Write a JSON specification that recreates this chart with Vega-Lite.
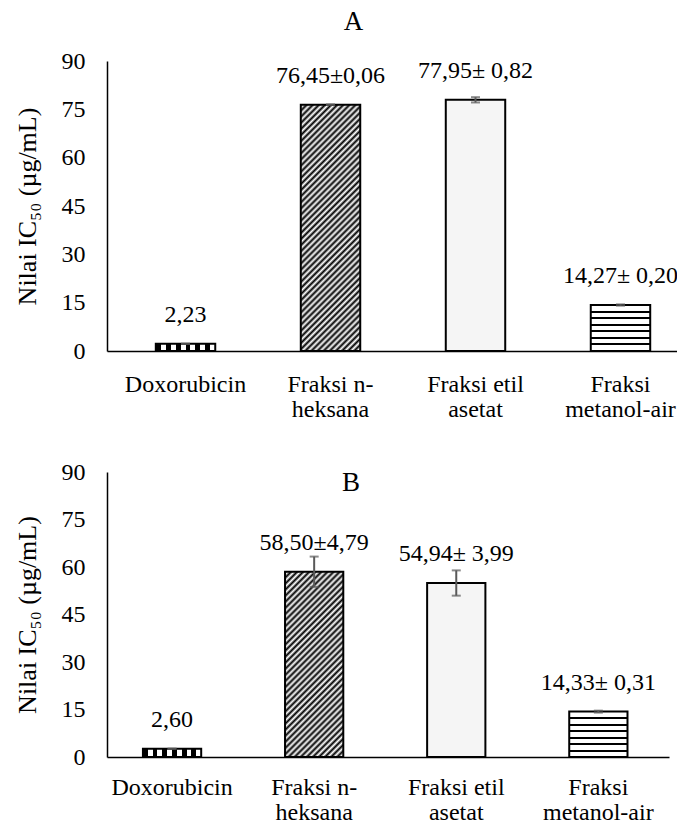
{
  "$schema": "https://vega.github.io/schema/vega-lite/v6.json",
  "padding": {"left": 14, "top": 8, "right": 0, "bottom": 0},
  "config": {
    "font": "Liberation Serif",
    "view": {"stroke": null},
    "axis": {"grid": false, "ticks": false, "tickSize": 0, "domainColor": "#000", "domainWidth": 1.5, "labelColor": "#000", "labelFont": "Liberation Serif", "labelFontSize": 24, "titleFont": "Liberation Serif", "titleFontSize": 26, "titleFontWeight": "normal", "titleColor": "#000"},
    "title": {"font": "Liberation Serif", "fontSize": 27, "fontWeight": "normal", "color": "#000"},
    "text": {"font": "Liberation Serif"}
  },
  "datasets": {
    "A": [
      {"sampel": "Doxorubicin", "nilai": 2.23, "sd": 0, "label": "2,23"},
      {"sampel": "Fraksi n-|heksana", "nilai": 76.45, "sd": 0.06, "label": "76,45±0,06"},
      {"sampel": "Fraksi etil|asetat", "nilai": 77.95, "sd": 0.82, "label": "77,95± 0,82"},
      {"sampel": "Fraksi|metanol-air", "nilai": 14.27, "sd": 0.20, "label": "14,27± 0,20"}
    ],
    "B": [
      {"sampel": "Doxorubicin", "nilai": 2.60, "sd": 0, "label": "2,60"},
      {"sampel": "Fraksi n-|heksana", "nilai": 58.50, "sd": 4.79, "label": "58,50±4,79"},
      {"sampel": "Fraksi etil|asetat", "nilai": 54.94, "sd": 3.99, "label": "54,94± 3,99"},
      {"sampel": "Fraksi|metanol-air", "nilai": 14.33, "sd": 0.31, "label": "14,33± 0,31"}
    ]
  },
  "concat": [
    {
      "data": {"name": "A"},
      "width": 573,
      "height": 290,
      "title": {"text": "A", "anchor": "middle", "frame": "group", "dx": -40, "baseline": "alphabetic", "offset": -8},
      "encoding": {
        "x": {"field": "sampel", "type": "nominal", "sort": null,
          "scale": {"paddingInner": 0.59, "paddingOuter": 0.271, "align": 0.621},
          "axis": {"title": null, "labelAngle": 0, "labelPadding": 21, "labelOverlap": false, "labelExpr": "split(datum.label, '|')", "labelLineHeight": 25}},
        "y": {"field": "nilai", "type": "quantitative",
          "scale": {"domain": [0, 90], "nice": false},
          "axis": {"values": [0, 15, 30, 45, 60, 75, 90], "labelPadding": 22, "title": "Nilai IC₅₀ (µg/mL)", "titlePadding": 21}}
      },
      "layer": [
        {
          "mark": {"type": "bar", "stroke": "#000", "strokeWidth": 2},
          "encoding": {
            "fill": {
              "condition": [
                {"test": "datum.sampel === 'Doxorubicin'", "value": {"gradient": "linear", "x1": 0, "y1": 0, "x2": 1, "y2": 0, "stops": [
                  {"offset": 0, "color": "#000"}, {"offset": 0.0833, "color": "#000"}, {"offset": 0.0833, "color": "#fff"}, {"offset": 0.1667, "color": "#fff"},
                  {"offset": 0.1667, "color": "#000"}, {"offset": 0.25, "color": "#000"}, {"offset": 0.25, "color": "#fff"}, {"offset": 0.3333, "color": "#fff"},
                  {"offset": 0.3333, "color": "#000"}, {"offset": 0.4167, "color": "#000"}, {"offset": 0.4167, "color": "#fff"}, {"offset": 0.5, "color": "#fff"},
                  {"offset": 0.5, "color": "#000"}, {"offset": 0.5833, "color": "#000"}, {"offset": 0.5833, "color": "#fff"}, {"offset": 0.6667, "color": "#fff"},
                  {"offset": 0.6667, "color": "#000"}, {"offset": 0.75, "color": "#000"}, {"offset": 0.75, "color": "#fff"}, {"offset": 0.8333, "color": "#fff"},
                  {"offset": 0.8333, "color": "#000"}, {"offset": 0.9167, "color": "#000"}, {"offset": 0.9167, "color": "#fff"}, {"offset": 1, "color": "#fff"}]}},
                {"test": "datum.sampel === 'Fraksi n-|heksana'", "value": {"gradient": "linear", "x1": 0, "y1": 0, "x2": 0.2832, "y2": 1.1731, "stops": [
                  {"offset": 0, "color": "#000"}, {"offset": 0.01, "color": "#fff"}, {"offset": 0.02, "color": "#000"}, {"offset": 0.03, "color": "#fff"}, {"offset": 0.04, "color": "#000"},
                  {"offset": 0.05, "color": "#fff"}, {"offset": 0.06, "color": "#000"}, {"offset": 0.07, "color": "#fff"}, {"offset": 0.08, "color": "#000"}, {"offset": 0.09, "color": "#fff"},
                  {"offset": 0.10, "color": "#000"}, {"offset": 0.11, "color": "#fff"}, {"offset": 0.12, "color": "#000"}, {"offset": 0.13, "color": "#fff"}, {"offset": 0.14, "color": "#000"},
                  {"offset": 0.15, "color": "#fff"}, {"offset": 0.16, "color": "#000"}, {"offset": 0.17, "color": "#fff"}, {"offset": 0.18, "color": "#000"}, {"offset": 0.19, "color": "#fff"},
                  {"offset": 0.20, "color": "#000"}, {"offset": 0.21, "color": "#fff"}, {"offset": 0.22, "color": "#000"}, {"offset": 0.23, "color": "#fff"}, {"offset": 0.24, "color": "#000"},
                  {"offset": 0.25, "color": "#fff"}, {"offset": 0.26, "color": "#000"}, {"offset": 0.27, "color": "#fff"}, {"offset": 0.28, "color": "#000"}, {"offset": 0.29, "color": "#fff"},
                  {"offset": 0.30, "color": "#000"}, {"offset": 0.31, "color": "#fff"}, {"offset": 0.32, "color": "#000"}, {"offset": 0.33, "color": "#fff"}, {"offset": 0.34, "color": "#000"},
                  {"offset": 0.35, "color": "#fff"}, {"offset": 0.36, "color": "#000"}, {"offset": 0.37, "color": "#fff"}, {"offset": 0.38, "color": "#000"}, {"offset": 0.39, "color": "#fff"},
                  {"offset": 0.40, "color": "#000"}, {"offset": 0.41, "color": "#fff"}, {"offset": 0.42, "color": "#000"}, {"offset": 0.43, "color": "#fff"}, {"offset": 0.44, "color": "#000"},
                  {"offset": 0.45, "color": "#fff"}, {"offset": 0.46, "color": "#000"}, {"offset": 0.47, "color": "#fff"}, {"offset": 0.48, "color": "#000"}, {"offset": 0.49, "color": "#fff"},
                  {"offset": 0.50, "color": "#000"}, {"offset": 0.51, "color": "#fff"}, {"offset": 0.52, "color": "#000"}, {"offset": 0.53, "color": "#fff"}, {"offset": 0.54, "color": "#000"},
                  {"offset": 0.55, "color": "#fff"}, {"offset": 0.56, "color": "#000"}, {"offset": 0.57, "color": "#fff"}, {"offset": 0.58, "color": "#000"}, {"offset": 0.59, "color": "#fff"},
                  {"offset": 0.60, "color": "#000"}, {"offset": 0.61, "color": "#fff"}, {"offset": 0.62, "color": "#000"}, {"offset": 0.63, "color": "#fff"}, {"offset": 0.64, "color": "#000"},
                  {"offset": 0.65, "color": "#fff"}, {"offset": 0.66, "color": "#000"}, {"offset": 0.67, "color": "#fff"}, {"offset": 0.68, "color": "#000"}, {"offset": 0.69, "color": "#fff"},
                  {"offset": 0.70, "color": "#000"}, {"offset": 0.71, "color": "#fff"}, {"offset": 0.72, "color": "#000"}, {"offset": 0.73, "color": "#fff"}, {"offset": 0.74, "color": "#000"},
                  {"offset": 0.75, "color": "#fff"}, {"offset": 0.76, "color": "#000"}, {"offset": 0.77, "color": "#fff"}, {"offset": 0.78, "color": "#000"}, {"offset": 0.79, "color": "#fff"},
                  {"offset": 0.80, "color": "#000"}, {"offset": 0.81, "color": "#fff"}, {"offset": 0.82, "color": "#000"}, {"offset": 0.83, "color": "#fff"}, {"offset": 0.84, "color": "#000"},
                  {"offset": 0.85, "color": "#fff"}, {"offset": 0.86, "color": "#000"}, {"offset": 0.87, "color": "#fff"}, {"offset": 0.88, "color": "#000"}, {"offset": 0.89, "color": "#fff"},
                  {"offset": 0.90, "color": "#000"}, {"offset": 0.91, "color": "#fff"}, {"offset": 0.92, "color": "#000"}, {"offset": 0.93, "color": "#fff"}, {"offset": 0.94, "color": "#000"},
                  {"offset": 0.95, "color": "#fff"}, {"offset": 0.96, "color": "#000"}, {"offset": 0.97, "color": "#fff"}, {"offset": 0.98, "color": "#000"}, {"offset": 0.99, "color": "#fff"},
                  {"offset": 1, "color": "#000"}]}},
                {"test": "datum.sampel === 'Fraksi|metanol-air'", "value": {"gradient": "linear", "x1": 0, "y1": 0, "x2": 0, "y2": 1, "stops": [
                  {"offset": 0, "color": "#fff"},
                  {"offset": 0.1209, "color": "#fff"}, {"offset": 0.1209, "color": "#000"}, {"offset": 0.1649, "color": "#000"}, {"offset": 0.1649, "color": "#fff"},
                  {"offset": 0.2637, "color": "#fff"}, {"offset": 0.2637, "color": "#000"}, {"offset": 0.3077, "color": "#000"}, {"offset": 0.3077, "color": "#fff"},
                  {"offset": 0.4066, "color": "#fff"}, {"offset": 0.4066, "color": "#000"}, {"offset": 0.4506, "color": "#000"}, {"offset": 0.4506, "color": "#fff"},
                  {"offset": 0.5494, "color": "#fff"}, {"offset": 0.5494, "color": "#000"}, {"offset": 0.5934, "color": "#000"}, {"offset": 0.5934, "color": "#fff"},
                  {"offset": 0.6923, "color": "#fff"}, {"offset": 0.6923, "color": "#000"}, {"offset": 0.7363, "color": "#000"}, {"offset": 0.7363, "color": "#fff"},
                  {"offset": 0.8351, "color": "#fff"}, {"offset": 0.8351, "color": "#000"}, {"offset": 0.8791, "color": "#000"}, {"offset": 0.8791, "color": "#fff"},
                  {"offset": 1, "color": "#fff"}]}}
              ],
              "value": "#f5f5f5"
            }
          }
        },
        {
          "mark": {"type": "errorbar", "ticks": true, "size": 9, "thickness": 2, "color": "#595959"},
          "encoding": {"yError": {"field": "sd"}}
        },
        {
          "mark": {"type": "text", "dy": -22, "baseline": "alphabetic", "font": "Liberation Serif", "fontSize": 24, "color": "#000"},
          "encoding": {"text": {"field": "label"}}
        }
      ]
    },
    {
      "data": {"name": "B"},
      "width": 562,
      "height": 285,
      "title": {"text": "B", "anchor": "middle", "frame": "group", "dx": -37, "baseline": "alphabetic", "offset": -58},
      "encoding": {
        "x": {"field": "sampel", "type": "nominal", "sort": null,
          "scale": {"paddingInner": 0.59, "paddingOuter": 0.2725, "align": 0.464},
          "axis": {"title": null, "labelAngle": 0, "labelPadding": 18, "labelOverlap": false, "labelExpr": "split(datum.label, '|')", "labelLineHeight": 25}},
        "y": {"field": "nilai", "type": "quantitative",
          "scale": {"domain": [0, 90], "nice": false},
          "axis": {"values": [0, 15, 30, 45, 60, 75, 90], "labelPadding": 22, "title": "Nilai IC₅₀ (µg/mL)", "titlePadding": 21}}
      },
      "layer": [
        {
          "mark": {"type": "bar", "stroke": "#000", "strokeWidth": 2},
          "encoding": {
            "fill": {
              "condition": [
                {"test": "datum.sampel === 'Doxorubicin'", "value": {"gradient": "linear", "x1": 0, "y1": 0, "x2": 1, "y2": 0, "stops": [
                  {"offset": 0, "color": "#000"}, {"offset": 0.0833, "color": "#000"}, {"offset": 0.0833, "color": "#fff"}, {"offset": 0.1667, "color": "#fff"},
                  {"offset": 0.1667, "color": "#000"}, {"offset": 0.25, "color": "#000"}, {"offset": 0.25, "color": "#fff"}, {"offset": 0.3333, "color": "#fff"},
                  {"offset": 0.3333, "color": "#000"}, {"offset": 0.4167, "color": "#000"}, {"offset": 0.4167, "color": "#fff"}, {"offset": 0.5, "color": "#fff"},
                  {"offset": 0.5, "color": "#000"}, {"offset": 0.5833, "color": "#000"}, {"offset": 0.5833, "color": "#fff"}, {"offset": 0.6667, "color": "#fff"},
                  {"offset": 0.6667, "color": "#000"}, {"offset": 0.75, "color": "#000"}, {"offset": 0.75, "color": "#fff"}, {"offset": 0.8333, "color": "#fff"},
                  {"offset": 0.8333, "color": "#000"}, {"offset": 0.9167, "color": "#000"}, {"offset": 0.9167, "color": "#fff"}, {"offset": 1, "color": "#fff"}]}},
                {"test": "datum.sampel === 'Fraksi n-|heksana'", "value": {"gradient": "linear", "x1": 0, "y1": 0, "x2": 0.3765, "y2": 1.1962, "stops": [
                  {"offset": 0, "color": "#000"}, {"offset": 0.0125, "color": "#fff"}, {"offset": 0.025, "color": "#000"}, {"offset": 0.0375, "color": "#fff"},
                  {"offset": 0.05, "color": "#000"}, {"offset": 0.0625, "color": "#fff"}, {"offset": 0.075, "color": "#000"}, {"offset": 0.0875, "color": "#fff"},
                  {"offset": 0.1, "color": "#000"}, {"offset": 0.1125, "color": "#fff"}, {"offset": 0.125, "color": "#000"}, {"offset": 0.1375, "color": "#fff"},
                  {"offset": 0.15, "color": "#000"}, {"offset": 0.1625, "color": "#fff"}, {"offset": 0.175, "color": "#000"}, {"offset": 0.1875, "color": "#fff"},
                  {"offset": 0.2, "color": "#000"}, {"offset": 0.2125, "color": "#fff"}, {"offset": 0.225, "color": "#000"}, {"offset": 0.2375, "color": "#fff"},
                  {"offset": 0.25, "color": "#000"}, {"offset": 0.2625, "color": "#fff"}, {"offset": 0.275, "color": "#000"}, {"offset": 0.2875, "color": "#fff"},
                  {"offset": 0.3, "color": "#000"}, {"offset": 0.3125, "color": "#fff"}, {"offset": 0.325, "color": "#000"}, {"offset": 0.3375, "color": "#fff"},
                  {"offset": 0.35, "color": "#000"}, {"offset": 0.3625, "color": "#fff"}, {"offset": 0.375, "color": "#000"}, {"offset": 0.3875, "color": "#fff"},
                  {"offset": 0.4, "color": "#000"}, {"offset": 0.4125, "color": "#fff"}, {"offset": 0.425, "color": "#000"}, {"offset": 0.4375, "color": "#fff"},
                  {"offset": 0.45, "color": "#000"}, {"offset": 0.4625, "color": "#fff"}, {"offset": 0.475, "color": "#000"}, {"offset": 0.4875, "color": "#fff"},
                  {"offset": 0.5, "color": "#000"}, {"offset": 0.5125, "color": "#fff"}, {"offset": 0.525, "color": "#000"}, {"offset": 0.5375, "color": "#fff"},
                  {"offset": 0.55, "color": "#000"}, {"offset": 0.5625, "color": "#fff"}, {"offset": 0.575, "color": "#000"}, {"offset": 0.5875, "color": "#fff"},
                  {"offset": 0.6, "color": "#000"}, {"offset": 0.6125, "color": "#fff"}, {"offset": 0.625, "color": "#000"}, {"offset": 0.6375, "color": "#fff"},
                  {"offset": 0.65, "color": "#000"}, {"offset": 0.6625, "color": "#fff"}, {"offset": 0.675, "color": "#000"}, {"offset": 0.6875, "color": "#fff"},
                  {"offset": 0.7, "color": "#000"}, {"offset": 0.7125, "color": "#fff"}, {"offset": 0.725, "color": "#000"}, {"offset": 0.7375, "color": "#fff"},
                  {"offset": 0.75, "color": "#000"}, {"offset": 0.7625, "color": "#fff"}, {"offset": 0.775, "color": "#000"}, {"offset": 0.7875, "color": "#fff"},
                  {"offset": 0.8, "color": "#000"}, {"offset": 0.8125, "color": "#fff"}, {"offset": 0.825, "color": "#000"}, {"offset": 0.8375, "color": "#fff"},
                  {"offset": 0.85, "color": "#000"}, {"offset": 0.8625, "color": "#fff"}, {"offset": 0.875, "color": "#000"}, {"offset": 0.8875, "color": "#fff"},
                  {"offset": 0.9, "color": "#000"}, {"offset": 0.9125, "color": "#fff"}, {"offset": 0.925, "color": "#000"}, {"offset": 0.9375, "color": "#fff"},
                  {"offset": 0.95, "color": "#000"}, {"offset": 0.9625, "color": "#fff"}, {"offset": 0.975, "color": "#000"}, {"offset": 0.9875, "color": "#fff"},
                  {"offset": 1, "color": "#000"}]}},
                {"test": "datum.sampel === 'Fraksi|metanol-air'", "value": {"gradient": "linear", "x1": 0, "y1": 0, "x2": 0, "y2": 1, "stops": [
                  {"offset": 0, "color": "#fff"},
                  {"offset": 0.1209, "color": "#fff"}, {"offset": 0.1209, "color": "#000"}, {"offset": 0.1649, "color": "#000"}, {"offset": 0.1649, "color": "#fff"},
                  {"offset": 0.2637, "color": "#fff"}, {"offset": 0.2637, "color": "#000"}, {"offset": 0.3077, "color": "#000"}, {"offset": 0.3077, "color": "#fff"},
                  {"offset": 0.4066, "color": "#fff"}, {"offset": 0.4066, "color": "#000"}, {"offset": 0.4506, "color": "#000"}, {"offset": 0.4506, "color": "#fff"},
                  {"offset": 0.5494, "color": "#fff"}, {"offset": 0.5494, "color": "#000"}, {"offset": 0.5934, "color": "#000"}, {"offset": 0.5934, "color": "#fff"},
                  {"offset": 0.6923, "color": "#fff"}, {"offset": 0.6923, "color": "#000"}, {"offset": 0.7363, "color": "#000"}, {"offset": 0.7363, "color": "#fff"},
                  {"offset": 0.8351, "color": "#fff"}, {"offset": 0.8351, "color": "#000"}, {"offset": 0.8791, "color": "#000"}, {"offset": 0.8791, "color": "#fff"},
                  {"offset": 1, "color": "#fff"}]}}
              ],
              "value": "#f5f5f5"
            }
          }
        },
        {
          "mark": {"type": "errorbar", "ticks": true, "size": 9, "thickness": 2, "color": "#595959"},
          "encoding": {"yError": {"field": "sd"}}
        },
        {
          "mark": {"type": "text", "dy": -22, "baseline": "alphabetic", "font": "Liberation Serif", "fontSize": 24, "color": "#000"},
          "encoding": {"text": {"field": "label"}}
        }
      ]
    }
  ],
  "columns": 1,
  "spacing": 39
}
